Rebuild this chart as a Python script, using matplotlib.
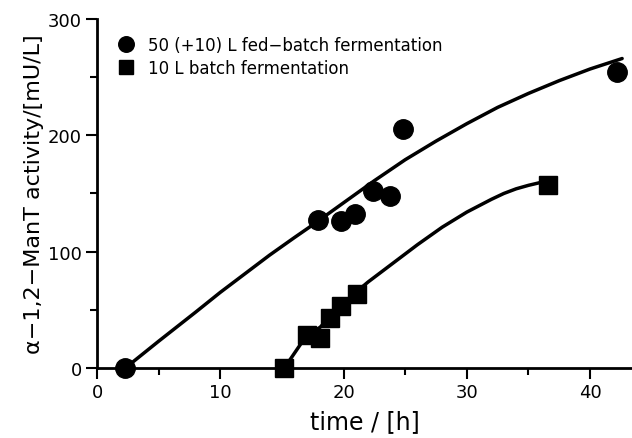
import matplotlib
matplotlib.use("Agg")
from matplotlib import pyplot as plt
from matplotlib.ticker import MultipleLocator

# measured points
fed_t = [2.3, 17.9, 19.8, 20.9, 22.4, 23.8, 24.8, 42.2]
fed_act = [0, 127, 126, 132, 152, 148, 205, 254]
batch_t = [15.2, 17.0, 18.1, 18.9, 19.8, 21.1, 36.6]
batch_act = [0, 28, 26, 43, 53, 64, 157]

# fitted curves
fedfit_t = [2.3, 5, 8, 10, 12, 14, 16, 17.5, 20, 22.5, 25, 27.5, 30, 32.5, 35, 37.5, 40, 42.6]
fedfit_act = [0, 23, 48, 65, 81, 97, 112, 123, 142, 161, 179, 195, 210, 224, 236, 247, 257, 266]
batchfit_t = [15.2, 17.0, 18.1, 19.0, 20.0, 21.1, 22.0, 24.0, 26.0, 28.0, 30.0, 32.0, 33.0,
              34.0, 35.0, 36.0, 36.6]
batchfit_act = [0, 28, 35, 45, 55, 66, 74, 90, 106, 121, 134, 145, 150, 154, 157, 159.5, 160]

plt.rcParams['font.family'] = 'DejaVu Sans'

fig = plt.figure(figsize=(6.32, 4.39), dpi=100)
ax = fig.add_axes([0.1535, 0.1595, 0.8465, 0.795])

ax.plot(fedfit_t, fedfit_act, color="black", lw=2.5, solid_capstyle="round",
        solid_joinstyle="round", clip_on=False)
ax.plot(batchfit_t, batchfit_act, color="black", lw=2.5, solid_capstyle="round",
        solid_joinstyle="round", clip_on=False)
ax.plot(fed_t, fed_act, "o", color="black", ms=14, clip_on=False, zorder=5,
        label="50 (+10) L fed\u2212batch fermentation")
ax.plot(batch_t, batch_act, "s", color="black", ms=13, clip_on=False, zorder=5,
        label="10 L batch fermentation")

ax.set_xlim(0, 43.4)
ax.set_ylim(0, 300)
ax.xaxis.set_major_locator(MultipleLocator(10))
ax.xaxis.set_minor_locator(MultipleLocator(5))
ax.yaxis.set_major_locator(MultipleLocator(100))
ax.yaxis.set_minor_locator(MultipleLocator(50))

for s in ["top", "right"]:
    ax.spines[s].set_visible(False)
for s in ["left", "bottom"]:
    ax.spines[s].set_linewidth(2)

ax.tick_params(which="major", direction="out", length=8, width=1.5, labelsize=13, pad=3)
ax.tick_params(which="minor", direction="out", length=5, width=1.5)

ax.set_xlabel("time / [h]", fontsize=17, labelpad=6)
ax.set_ylabel("\u03b1\u22121,2\u2212ManT activity/[mU/L]", fontsize=16, labelpad=3)

ax.legend(loc="upper left", bbox_to_anchor=(0.02, 0.985), frameon=False, fontsize=12,
          handlelength=0.8, handletextpad=0.9, labelspacing=0.3, markerscale=0.8,
          borderaxespad=0.3)

fig.savefig("out.png", dpi=100)
